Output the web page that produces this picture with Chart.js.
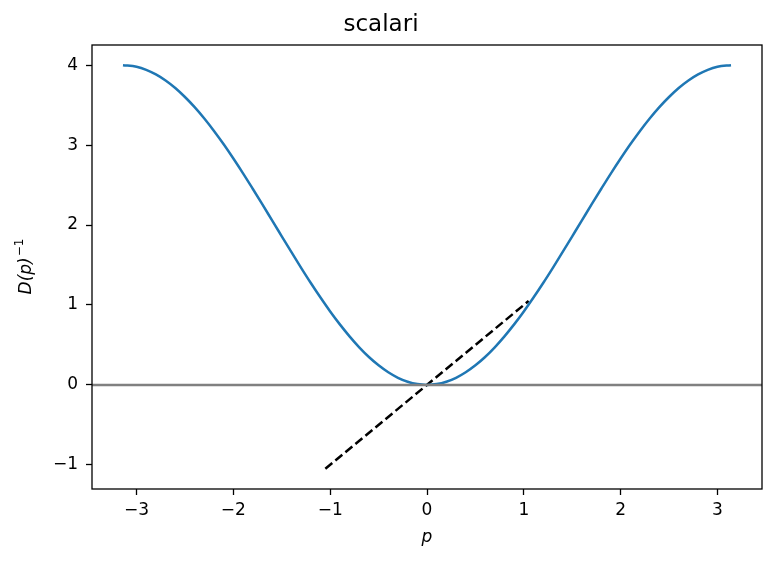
<!DOCTYPE html>
<html>
<head>
<meta charset="utf-8">
<script src="https://cdn.jsdelivr.net/npm/chart.js@4.4.0/dist/chart.umd.min.js"></script>
<style>
  html, body { margin: 0; padding: 0; background: #fff; }
  #wrap { width: 775px; height: 563px; }
</style>
</head>
<body>
<div id="wrap"><canvas id="myChart" width="775" height="563"></canvas></div>
<script>
// valori
var pValues = [-3.14, -3.0, -2.9, -2.8, -2.7, -2.6, -2.5, -2.4, -2.3, -2.2, -2.1, -2.0, -1.9, -1.8, -1.7, -1.6, -1.5,
               -1.4, -1.3, -1.2, -1.1, -1.0, -0.9, -0.8, -0.7, -0.6, -0.5, -0.4, -0.3, -0.2, -0.1, 0,
               0.1, 0.2, 0.3, 0.4, 0.5, 0.6, 0.7, 0.8, 0.9, 1.0, 1.1, 1.2, 1.3, 1.4, 1.5,
               1.6, 1.7, 1.8, 1.9, 2.0, 2.1, 2.2, 2.3, 2.4, 2.5, 2.6, 2.7, 2.8, 2.9, 3.0, 3.14];
var dValues = [4.000, 3.980, 3.942, 3.884, 3.808, 3.714, 3.602, 3.475, 3.333, 3.177, 3.010, 2.832, 2.647, 2.454, 2.258, 2.058, 1.859,
               1.660, 1.465, 1.275, 1.093, 0.919, 0.757, 0.607, 0.470, 0.349, 0.245, 0.158, 0.089, 0.040, 0.010, 0,
               0.010, 0.040, 0.089, 0.158, 0.245, 0.349, 0.470, 0.607, 0.757, 0.919, 1.093, 1.275, 1.465, 1.660, 1.859,
               2.058, 2.258, 2.454, 2.647, 2.832, 3.010, 3.177, 3.333, 3.475, 3.602, 3.714, 3.808, 3.884, 3.942, 3.980, 4.000];
var dashX = [-1.05, 1.05];
var dashY = [-1.05, 1.05];
var zeroX = [-3.46, 3.46];
var zeroY = [0, 0];
var xTicks = [-3, -2, -1, 0, 1, 2, 3];
var yTicks = [-1, 0, 1, 2, 3, 4];

function toPoints(xs, ys) {
    var out = [];
    for (var i = 0; i < xs.length; i++) out.push({ x: xs[i], y: ys[i] });
    return out;
}
function fmt(v) {
    return String(v).replace("-", "\u2212");
}

// cornice completa e etichetta asse y
var boxPlugin = {
    id: "boxPlugin",
    afterDraw: function (chart) {
        var a = chart.chartArea;
        var c = chart.ctx;
        c.save();
        c.strokeStyle = "#000";
        c.lineWidth = 1.3;
        c.strokeRect(a.left, a.top, a.right - a.left, a.bottom - a.top);
        c.translate(27, (a.top + a.bottom) / 2);
        c.rotate(-Math.PI / 2);
        c.fillStyle = "#000";
        c.textBaseline = "middle";
        c.textAlign = "left";
        var main = "D(p)";
        var sup = "\u22121";
        c.font = "italic 17px 'DejaVu Sans'";
        var w1 = c.measureText(main).width;
        c.font = "12px 'DejaVu Sans'";
        var w2 = c.measureText(sup).width;
        var x0 = -(w1 + w2) / 2;
        c.font = "italic 17px 'DejaVu Sans'";
        c.fillText(main, x0, 0);
        c.font = "12px 'DejaVu Sans'";
        c.fillText(sup, x0 + w1 + 1, -7);
        c.restore();
    }
};

var ctx = document.getElementById("myChart");
var myChart = new Chart(ctx, {
    type: "line",
    data: {
        datasets: [
            {
                data: toPoints(zeroX, zeroY),
                borderColor: "#808080",
                borderWidth: 2.5,
                pointRadius: 0
            },
            {
                data: toPoints(pValues, dValues),
                borderColor: "#1f77b4",
                borderWidth: 2.5,
                pointRadius: 0,
                cubicInterpolationMode: "monotone"
            },
            {
                data: toPoints(dashX, dashY),
                borderColor: "#000",
                borderWidth: 2.5,
                borderDash: [9, 4],
                pointRadius: 0
            }
        ]
    },
    options: {
        responsive: false,
        animation: false,
        devicePixelRatio: 1,
        layout: { padding: { left: 0, right: 13, top: 0, bottom: 0 } },
        plugins: {
            legend: { display: false },
            tooltip: { enabled: false },
            title: {
                display: true,
                text: "scalari",
                color: "#000",
                font: { family: "DejaVu Sans", size: 23, weight: "normal" },
                padding: { top: 11, bottom: 6.4 }
            }
        },
        scales: {
            x: {
                type: "linear",
                min: -3.46,
                max: 3.46,
                afterBuildTicks: function (s) {
                    s.ticks = xTicks.map(function (v) { return { value: v }; });
                },
                afterFit: function (s) { s.height = 74; },
                grid: { drawOnChartArea: false, drawTicks: true, tickLength: 6, tickColor: "#000", tickWidth: 1.3 },
                border: { display: false },
                ticks: {
                    color: "#000",
                    padding: 5,
                    maxRotation: 0,
                    font: { family: "DejaVu Sans", size: 17 },
                    callback: function (v) { return fmt(v); }
                },
                title: {
                    display: true,
                    text: "p",
                    color: "#000",
                    font: { family: "DejaVu Sans", size: 17, style: "italic" },
                    padding: { top: 0, bottom: 15 }
                }
            },
            y: {
                type: "linear",
                min: -1.3025,
                max: 4.2525,
                afterBuildTicks: function (s) {
                    s.ticks = yTicks.map(function (v) { return { value: v }; });
                },
                afterFit: function (s) { s.width = 92; },
                grid: { drawOnChartArea: false, drawTicks: true, tickLength: 6, tickColor: "#000", tickWidth: 1.3 },
                border: { display: false },
                ticks: {
                    color: "#000",
                    padding: 8,
                    font: { family: "DejaVu Sans", size: 17 },
                    callback: function (v) { return fmt(v); }
                }
            }
        }
    },
    plugins: [boxPlugin]
});
</script>
</body>
</html>
